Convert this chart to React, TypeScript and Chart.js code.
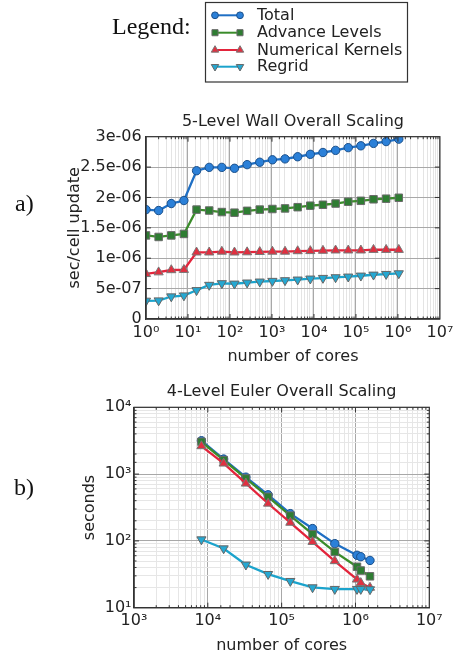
import React, { useEffect, useRef } from 'react';
import { Chart, registerables } from 'chart.js';

Chart.register(...registerables);

// ---------- data ----------
const seriesNames = ['Total', 'Advance Levels', 'Numerical Kernels', 'Regrid'];

// a) 5-Level Wall Overall Scaling
const wallCores = [1, 2, 4, 8, 16, 32, 64, 128, 256, 512, 1024, 2048, 4096, 8192, 16384, 32768, 65536, 131072, 262144, 524288, 1048576];
const wallTotal = [1.80e-6, 1.785e-6, 1.90e-6, 1.95e-6, 2.44e-6, 2.495e-6, 2.495e-6, 2.48e-6, 2.54e-6, 2.58e-6, 2.62e-6, 2.635e-6, 2.67e-6, 2.71e-6, 2.74e-6, 2.775e-6, 2.82e-6, 2.85e-6, 2.89e-6, 2.92e-6, 2.96e-6];
const wallAdvance = [1.376e-6, 1.35e-6, 1.376e-6, 1.40e-6, 1.80e-6, 1.785e-6, 1.76e-6, 1.75e-6, 1.78e-6, 1.80e-6, 1.81e-6, 1.82e-6, 1.84e-6, 1.865e-6, 1.88e-6, 1.90e-6, 1.93e-6, 1.945e-6, 1.97e-6, 1.98e-6, 1.995e-6];
const wallKernels = [0.742e-6, 0.77e-6, 0.806e-6, 0.81e-6, 1.097e-6, 1.097e-6, 1.11e-6, 1.097e-6, 1.10e-6, 1.105e-6, 1.11e-6, 1.11e-6, 1.118e-6, 1.12e-6, 1.125e-6, 1.13e-6, 1.13e-6, 1.13e-6, 1.14e-6, 1.14e-6, 1.14e-6];
const wallRegrid = [0.299e-6, 0.304e-6, 0.37e-6, 0.386e-6, 0.473e-6, 0.56e-6, 0.587e-6, 0.58e-6, 0.598e-6, 0.614e-6, 0.625e-6, 0.636e-6, 0.647e-6, 0.663e-6, 0.674e-6, 0.685e-6, 0.696e-6, 0.712e-6, 0.728e-6, 0.739e-6, 0.75e-6];
const wallYTickLabels = ['0', '5e-07', '1e-06', '1.5e-06', '2e-06', '2.5e-06', '3e-06'];
const wallXTickLabels = ['10⁰', '10¹', '10²', '10³', '10⁴', '10⁵', '10⁶', '10⁷'];

// b) 4-Level Euler Overall Scaling
const eulerCores = [8192, 16384, 32768, 65536, 131072, 262144, 524288, 1048576, 1179648, 1572864];
const eulerTotal = [3160, 1680, 900, 490, 256, 153, 91, 61, 58, 51];
const eulerAdvance = [3050, 1620, 860, 457, 239, 126, 68.5, 41, 36, 29.5];
const eulerKernels = [2630, 1445, 724, 363, 188, 97, 50, 26.5, 23.5, 20];
const eulerRegrid = [105, 77, 44, 31.8, 25, 20.1, 19, 19, 19, 18.8];
const eulerXTickLabels = ['10³', '10⁴', '10⁵', '10⁶', '10⁷'];
const eulerYTickLabels = ['10¹', '10²', '10³', '10⁴'];

// ---------- styles ----------
const FONT = "'DejaVu Sans', sans-serif";
const SERIF = "'Liberation Serif', 'DejaVu Serif', serif";
const styles = [
  { line: '#1f6fc4', fill: '#2b80d8', edge: '#1a4f8a', shape: 'circle', rot: 0, r: 4.2 },
  { line: '#3a8c2a', fill: '#2e7d32', edge: '#6a6a6a', shape: 'rect', rot: 0, r: 5.3 },
  { line: '#e3243b', fill: '#e03040', edge: '#777777', shape: 'triangle', rot: 0, r: 5.3 },
  { line: '#1ba3cc', fill: '#25a8d2', edge: '#666666', shape: 'triangle', rot: 180, r: 5.3 },
];

const isPow10 = (v: number) => {
  const e = Math.log10(v);
  return Math.abs(e - Math.round(e)) < 1e-6;
};

const logLabel = (labels: string[], minExp: number) => (value: any) => {
  const v = Number(value);
  if (!isPow10(v)) return '';
  const i = Math.round(Math.log10(v)) - minExp;
  return labels[i] ?? '';
};

function makeDatasets(xs: number[], series: number[][]) {
  return series.map((ys, i) => {
    const s = styles[i];
    return {
      label: seriesNames[i],
      data: xs.map((x, j) => ({ x, y: ys[j] })),
      borderColor: s.line,
      backgroundColor: s.fill,
      pointBackgroundColor: s.fill,
      pointBorderColor: s.edge,
      pointBorderWidth: 1,
      pointStyle: s.shape,
      pointRotation: s.rot,
      pointRadius: s.r,
      borderWidth: 2.3,
      tension: 0,
      order: 4 - i,
    };
  });
}

function drawMarker(ctx: CanvasRenderingContext2D, shape: string, rot: number, x: number, y: number, r: number) {
  ctx.beginPath();
  if (shape === 'circle') {
    ctx.arc(x, y, r, 0, Math.PI * 2);
  } else if (shape === 'rect') {
    const h = r * Math.SQRT1_2;
    ctx.rect(x - h, y - h, 2 * h, 2 * h);
  } else {
    const d = rot === 180 ? -1 : 1;
    ctx.moveTo(x, y - d * r);
    ctx.lineTo(x + r * 0.866, y + d * r * 0.5);
    ctx.lineTo(x - r * 0.866, y + d * r * 0.5);
    ctx.closePath();
  }
  ctx.fill();
  ctx.stroke();
}

const framePlugin = {
  id: 'frameTicks',
  afterDraw(chart: any) {
    const { ctx, chartArea: a } = chart;
    ctx.save();
    ctx.strokeStyle = '#333';
    ctx.lineWidth = 1.2;
    ctx.strokeRect(a.left, a.top, a.right - a.left, a.bottom - a.top);
    ctx.lineWidth = 1;
    const line = (x1: number, y1: number, x2: number, y2: number) => {
      ctx.beginPath();
      ctx.moveTo(x1, y1);
      ctx.lineTo(x2, y2);
      ctx.stroke();
    };
    const xs = chart.scales.x;
    const ys = chart.scales.y;
    xs.ticks.forEach((t: any) => {
      const p = xs.getPixelForValue(t.value);
      if (p < a.left + 0.5 || p > a.right - 0.5) return;
      const major = xs.type !== 'logarithmic' || isPow10(t.value);
      const L = major ? 5 : 2.5;
      line(p, a.bottom, p, a.bottom - L);
      line(p, a.top, p, a.top + L);
    });
    ys.ticks.forEach((t: any) => {
      const p = ys.getPixelForValue(t.value);
      if (p < a.top + 0.5 || p > a.bottom - 0.5) return;
      const major = ys.type !== 'logarithmic' || isPow10(t.value);
      const L = major ? 5 : 2.5;
      line(a.left, p, a.left + L, p);
      line(a.right, p, a.right - L, p);
    });
    ctx.restore();
  },
};

const legendPlugin = {
  id: 'figLegend',
  afterDraw(chart: any) {
    const ctx: CanvasRenderingContext2D = chart.ctx;
    ctx.save();
    ctx.fillStyle = '#111';
    ctx.font = `24px ${SERIF}`;
    ctx.textBaseline = 'alphabetic';
    ctx.textAlign = 'left';
    ctx.fillText('Legend:', 112, 33.5);
    ctx.fillText('a)', 15, 211);
    ctx.strokeStyle = '#333';
    ctx.lineWidth = 1.2;
    ctx.strokeRect(205.5, 2.5, 202, 79.5);
    const rows = [15.3, 32.7, 50, 66.7];
    rows.forEach((y, i) => {
      const s = styles[i];
      ctx.strokeStyle = s.line;
      ctx.lineWidth = 2;
      ctx.beginPath();
      ctx.moveTo(214, y);
      ctx.lineTo(241, y);
      ctx.stroke();
      ctx.fillStyle = s.fill;
      ctx.strokeStyle = s.edge;
      ctx.lineWidth = 1;
      const r = s.shape === 'circle' ? 3.4 : 4.3;
      drawMarker(ctx, s.shape, s.rot, 215, y, r);
      drawMarker(ctx, s.shape, s.rot, 240, y, r);
      ctx.fillStyle = '#222';
      ctx.font = `16px ${FONT}`;
      ctx.textBaseline = 'middle';
      ctx.fillText(seriesNames[i], 257, y + 0.5);
    });
    ctx.restore();
  },
};

const bLabelPlugin = {
  id: 'bLabel',
  afterDraw(chart: any) {
    const ctx: CanvasRenderingContext2D = chart.ctx;
    ctx.save();
    ctx.fillStyle = '#111';
    ctx.font = `24px ${SERIF}`;
    ctx.textBaseline = 'alphabetic';
    ctx.fillText('b)', 14, 125);
    ctx.restore();
  },
};

const gridColor = (major: string, minor: string) => (c: any) => {
  const scale = c.scale;
  if (!c.tick) return minor;
  if (scale && scale.type === 'logarithmic') return isPow10(c.tick.value) ? major : minor;
  return major;
};

function topConfig(): any {
  return {
    type: 'line',
    data: { datasets: makeDatasets(wallCores, [wallTotal, wallAdvance, wallKernels, wallRegrid]) },
    options: {
      responsive: false,
      animation: false,
      events: [],
      layout: { padding: { left: 60, right: 16, top: 112.1, bottom: 0 } },
      plugins: {
        legend: { display: false },
        tooltip: { enabled: false },
        title: {
          display: true,
          text: '5-Level Wall Overall Scaling',
          fullSize: false,
          color: '#222',
          font: { family: FONT, size: 16, weight: 'normal' },
          padding: { top: 0, bottom: 5.4 },
        },
      },
      scales: {
        x: {
          type: 'logarithmic',
          min: 1,
          max: 1e7,
          afterFit: (s: any) => { s.height = 51; },
          grid: { color: gridColor('#a8a8a8', '#e4e4e4'), drawTicks: false, lineWidth: 1 },
          border: { color: '#333', width: 1.2 },
          ticks: {
            autoSkip: false,
            maxRotation: 0,
            minRotation: 0,
            padding: 4.7,
            color: '#222',
            font: { family: FONT, size: 16 },
            callback: logLabel(wallXTickLabels, 0),
          },
          title: {
            display: true,
            text: 'number of cores',
            color: '#222',
            font: { family: FONT, size: 16 },
            padding: { top: 0, bottom: 3.4 },
          },
        },
        y: {
          type: 'linear',
          min: 0,
          max: 3e-6,
          afterFit: (s: any) => { s.width = 86; },
          grid: { color: '#a8a8a8', drawTicks: false },
          border: { color: '#333', width: 1.2 },
          ticks: {
            stepSize: 5e-7,
            padding: 4.3,
            color: '#222',
            font: { family: FONT, size: 16 },
            callback: (v: any) => wallYTickLabels[Math.round(Number(v) / 5e-7)] ?? '',
          },
          title: {
            display: true,
            text: 'sec/cell update',
            color: '#222',
            font: { family: FONT, size: 16 },
            padding: { top: 5.4, bottom: 0 },
          },
        },
      },
    },
    plugins: [framePlugin, legendPlugin],
  };
}

function bottomConfig(): any {
  return {
    type: 'line',
    data: { datasets: makeDatasets(eulerCores, [eulerTotal, eulerAdvance, eulerKernels, eulerRegrid]) },
    options: {
      responsive: false,
      animation: false,
      events: [],
      layout: { padding: { left: 70, right: 28.7, top: 12.1, bottom: 0 } },
      plugins: {
        legend: { display: false },
        tooltip: { enabled: false },
        title: {
          display: true,
          text: '4-Level Euler Overall Scaling',
          fullSize: false,
          color: '#222',
          font: { family: FONT, size: 16, weight: 'normal' },
          padding: { top: 0, bottom: 6 },
        },
      },
      scales: {
        x: {
          type: 'logarithmic',
          min: 1e3,
          max: 1e7,
          afterFit: (s: any) => { s.height = 47.3; },
          grid: { color: gridColor('#a8a8a8', '#e6e6e6'), drawTicks: false },
          border: { color: '#333', width: 1.2 },
          ticks: {
            autoSkip: false,
            maxRotation: 0,
            minRotation: 0,
            padding: 3.4,
            color: '#222',
            font: { family: FONT, size: 16 },
            callback: logLabel(eulerXTickLabels, 3),
          },
          title: {
            display: true,
            text: 'number of cores',
            color: '#222',
            font: { family: FONT, size: 16 },
            padding: { top: 0, bottom: 0 },
          },
        },
        y: {
          type: 'logarithmic',
          min: 10,
          max: 1e4,
          afterFit: (s: any) => { s.width = 64; },
          grid: { color: gridColor('#a8a8a8', '#e6e6e6'), drawTicks: false },
          border: { color: '#333', width: 1.2 },
          ticks: {
            autoSkip: false,
            padding: 2.5,
            color: '#222',
            font: { family: FONT, size: 16 },
            callback: logLabel(eulerYTickLabels, 1),
          },
          title: {
            display: true,
            text: 'seconds',
            color: '#222',
            font: { family: FONT, size: 16 },
            padding: { top: 10.4, bottom: 0 },
          },
        },
      },
    },
    plugins: [framePlugin, bLabelPlugin],
  };
}

export default function App() {
  const topRef = useRef<HTMLCanvasElement>(null);
  const botRef = useRef<HTMLCanvasElement>(null);

  useEffect(() => {
    const c1 = new Chart(topRef.current as HTMLCanvasElement, topConfig());
    const c2 = new Chart(botRef.current as HTMLCanvasElement, bottomConfig());
    return () => {
      c1.destroy();
      c2.destroy();
    };
  }, []);

  return (
    <div style={{ position: 'absolute', left: 0, top: 0, width: 458, height: 655, background: '#fff' }}>
      <canvas ref={topRef} width={458} height={370} style={{ position: 'absolute', left: 0, top: 0 }} />
      <canvas ref={botRef} width={458} height={285} style={{ position: 'absolute', left: 0, top: 370 }} />
    </div>
  );
}
